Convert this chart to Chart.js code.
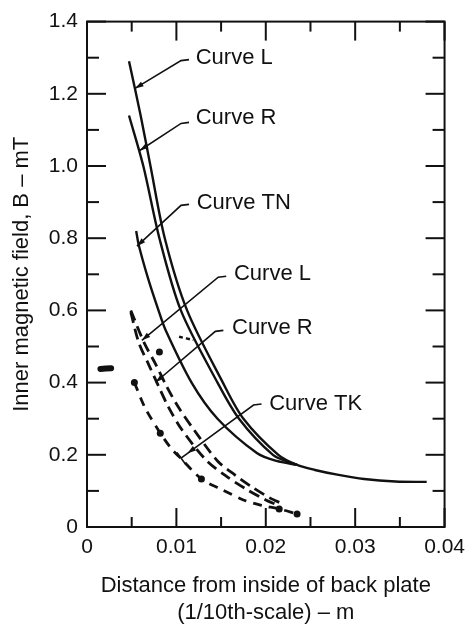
<!DOCTYPE html>
<html>
<head>
<meta charset="utf-8">
<script src="https://cdn.jsdelivr.net/npm/chart.js@4.4.0/dist/chart.umd.min.js"></script>
<style>
  html, body { margin: 0; padding: 0; background: #fff; }
  #wrap { width: 473px; height: 624px; }
</style>
</head>
<body>
<div id="wrap"><canvas id="fieldChart" width="473" height="624"></canvas></div>
<script>
// solid curves (upper set)
const curveLX = [0.0047, 0.006, 0.0071, 0.0087, 0.0112, 0.0152, 0.0175, 0.0214, 0.0235, 0.0255, 0.028, 0.031, 0.0345, 0.038];
const curveLY = [1.29, 1.14, 1.0, 0.8, 0.6, 0.4, 0.3, 0.2, 0.172, 0.158, 0.145, 0.133, 0.126, 0.125];
const curveRX = [0.0047, 0.0063, 0.0081, 0.0105, 0.0146, 0.017, 0.0208, 0.0228, 0.0235];
const curveRY = [1.14, 1.0, 0.8, 0.6, 0.4, 0.3, 0.2, 0.178, 0.172];
const curveTNX = [0.0055, 0.0058, 0.0069, 0.008, 0.0088, 0.0117, 0.0146, 0.019, 0.0212, 0.0235];
const curveTNY = [0.82, 0.78, 0.683, 0.6, 0.545, 0.4, 0.3, 0.205, 0.183, 0.172];

// dashed curves (lower set)
const dashLX = [0.0049, 0.0058, 0.0069, 0.008, 0.0091, 0.0106, 0.0133, 0.0155, 0.0178, 0.02, 0.0212];
const dashLY = [0.595, 0.51, 0.45, 0.39, 0.333, 0.27, 0.186, 0.142, 0.105, 0.075, 0.062];
const dashRX = [0.0049, 0.0064, 0.0077, 0.0089, 0.0102, 0.012, 0.0146, 0.0165, 0.0185, 0.0205, 0.0218];
const dashRY = [0.6, 0.51, 0.45, 0.39, 0.333, 0.268, 0.183, 0.145, 0.11, 0.08, 0.065];
const curveTKX = [0.0053, 0.0065, 0.0082, 0.0095, 0.0105, 0.0128, 0.015, 0.0175, 0.0195, 0.0215, 0.0235];
const curveTKY = [0.40, 0.33, 0.26, 0.215, 0.19, 0.133, 0.105, 0.075, 0.06, 0.05, 0.036];
const tkDot = [1, 0, 1, 0, 0, 1, 0, 0, 0, 1, 1];

// loose marks near the start of the lower curves
const blobX = [0.0015, 0.0027];
const blobY = [0.438, 0.44];
const dotX = [0.0081];
const dotY = [0.485];
const bitX = [0.0103, 0.0119];
const bitY = [0.527, 0.518];

// curve labels and leader lines (data units)
const noteText = ['Curve L', 'Curve R', 'Curve TN', 'Curve L', 'Curve R', 'Curve TK'];
const noteX = [0.01216, 0.01216, 0.01227, 0.01644, 0.01622, 0.02038];
const noteY = [1.298, 1.132, 0.899, 0.700, 0.551, 0.340];
const kneeX = [0.01052, 0.01052, 0.01052, 0.01468, 0.01436, 0.01863];
const kneeY = [1.292, 1.118, 0.891, 0.692, 0.542, 0.338];
const tipX = [0.00537, 0.0059, 0.00559, 0.00614, 0.00767, 0.01052];
const tipY = [1.215, 1.043, 0.778, 0.517, 0.401, 0.191];

const ink = '#111';
const fontFam = "'Liberation Sans', Arial, sans-serif";
Chart.defaults.font.family = fontFam;
Chart.defaults.color = ink;

const pts = (xs, ys) => xs.map((x, i) => ({ x: x, y: ys[i] }));

const solid = (label, xs, ys) => ({
  label: label,
  data: pts(xs, ys),
  showLine: true,
  borderColor: ink,
  borderWidth: 2.4,
  pointRadius: 0,
  tension: 0.3,
});

const dashed = (label, xs, ys, dash) => ({
  ...solid(label, xs, ys),
  borderWidth: 2.8,
  borderDash: dash,
});

const isMajorX = (v) => Math.round(v * 1000) % 10 === 0;
const isMajorY = (v) => Math.round(v * 10) % 2 === 0;

const frameAndNotes = {
  id: 'frameAndNotes',
  afterDatasetsDraw(chart) {
    const { ctx, chartArea: a, scales: { x, y } } = chart;
    const seg = (x1, y1, x2, y2) => {
      ctx.beginPath();
      ctx.moveTo(x1, y1);
      ctx.lineTo(x2, y2);
      ctx.stroke();
    };
    ctx.save();
    ctx.strokeStyle = ink;
    ctx.fillStyle = ink;
    ctx.lineWidth = 2;
    ctx.strokeRect(a.left, a.top, a.right - a.left, a.bottom - a.top);

    // inward ticks on all four sides
    x.ticks.forEach((t) => {
      const px = x.getPixelForValue(t.value);
      const len = isMajorX(t.value) ? 19 : 10;
      seg(px, a.bottom, px, a.bottom - len);
      seg(px, a.top, px, a.top + len);
    });
    y.ticks.forEach((t) => {
      const py = y.getPixelForValue(t.value);
      const len = isMajorY(t.value) ? 19 : 12;
      seg(a.left, py, a.left + len, py);
      seg(a.right, py, a.right - len, py);
    });

    // labels with leaders
    ctx.lineWidth = 1.6;
    ctx.font = '22px ' + fontFam;
    ctx.textAlign = 'left';
    ctx.textBaseline = 'middle';
    noteText.forEach((txt, i) => {
      const tx = x.getPixelForValue(noteX[i]);
      const ty = y.getPixelForValue(noteY[i]);
      ctx.fillText(txt, tx, ty);
      const kx = x.getPixelForValue(kneeX[i]);
      const ky = y.getPixelForValue(kneeY[i]);
      const ex = x.getPixelForValue(tipX[i]);
      const ey = y.getPixelForValue(tipY[i]);
      ctx.beginPath();
      ctx.moveTo(kx + 8, ky - 1);
      ctx.lineTo(kx, ky);
      ctx.lineTo(ex, ey);
      ctx.stroke();
      const ang = Math.atan2(ey - ky, ex - kx);
      if (txt === 'Curve TK') {
        const nx = Math.cos(ang + Math.PI / 2) * 7;
        const ny = Math.sin(ang + Math.PI / 2) * 7;
        seg(ex - nx, ey - ny, ex + nx, ey + ny);
      }
      const hx = txt === 'Curve TK' ? ex - Math.cos(ang) * 8 : ex;
      const hy = txt === 'Curve TK' ? ey - Math.sin(ang) * 8 : ey;
      ctx.beginPath();
      ctx.moveTo(hx, hy);
      ctx.lineTo(hx - Math.cos(ang - 0.3) * 9, hy - Math.sin(ang - 0.3) * 9);
      ctx.lineTo(hx - Math.cos(ang + 0.3) * 9, hy - Math.sin(ang + 0.3) * 9);
      ctx.closePath();
      ctx.fill();
    });
    ctx.restore();
  },
};

const config = {
  type: 'scatter',
  data: {
    datasets: [
      solid('Curve L', curveLX, curveLY),
      solid('Curve R', curveRX, curveRY),
      solid('Curve TN', curveTNX, curveTNY),
      dashed('Curve L (dashed)', dashLX, dashLY, [11, 6]),
      dashed('Curve R (dashed)', dashRX, dashRY, [11, 6]),
      {
        ...dashed('Curve TK', curveTKX, curveTKY, [9, 7]),
        pointRadius: tkDot.map((d) => (d ? 3.5 : 0)),
        pointBackgroundColor: ink,
        pointBorderWidth: 0,
      },
      { ...solid('blob', blobX, blobY), borderWidth: 6, borderCapStyle: 'round' },
      { label: 'dot', data: pts(dotX, dotY), pointRadius: 3.5, pointBackgroundColor: ink, pointBorderWidth: 0 },
      { ...dashed('bit', bitX, bitY, [4, 3]), borderWidth: 2.4 },
    ],
  },
  options: {
    responsive: false,
    animation: false,
    events: [],
    layout: { padding: { top: 21, right: 21, left: 0, bottom: 0 } },
    plugins: {
      legend: { display: false },
      tooltip: { enabled: false },
    },
    scales: {
      x: {
        type: 'linear',
        min: 0,
        max: 0.04,
        border: { display: false },
        grid: { display: false, drawTicks: false },
        ticks: {
          stepSize: 0.005,
          autoSkip: false,
          maxRotation: 0,
          padding: 8,
          color: ink,
          font: { size: 21 },
          callback: (v) => (isMajorX(v) ? (v === 0 ? '0' : v.toFixed(2)) : ''),
        },
        title: {
          display: true,
          text: ['Distance from inside of back plate', '(1/10th-scale) \u2013 m'],
          color: ink,
          font: { size: 22 },
          padding: { top: 0, bottom: -2 },
        },
        afterFit: (s) => { s.height = 97; },
      },
      y: {
        type: 'linear',
        min: 0,
        max: 1.4,
        border: { display: false },
        grid: { display: false, drawTicks: false },
        ticks: {
          stepSize: 0.1,
          autoSkip: false,
          padding: 9,
          color: ink,
          font: { size: 21 },
          callback: (v) => (isMajorY(v) ? (v === 0 ? '0' : v.toFixed(1)) : ''),
        },
        title: {
          display: true,
          text: 'Inner magnetic field, B \u2013 mT',
          color: ink,
          font: { size: 22 },
          padding: { top: 9, bottom: 0 },
        },
        afterFit: (s) => { s.width = 87; },
      },
    },
  },
  plugins: [frameAndNotes],
};

const fieldChart = new Chart(document.getElementById('fieldChart'), config);
</script>
</body>
</html>
